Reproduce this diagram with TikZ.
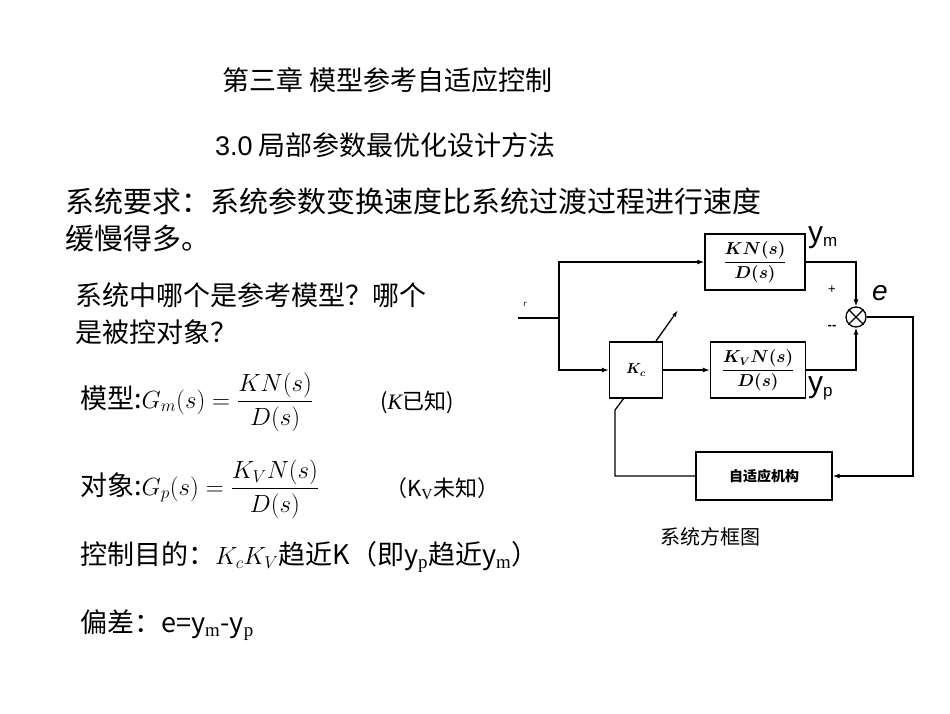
\documentclass[tikz,border=0pt]{standalone}
\usepackage{amsmath,bm}
\usepackage{fontspec}
\setmainfont{Liberation Serif}
\newfontfamily\cjk{Noto Sans CJK SC}
\newfontfamily\sans{Liberation Sans}
\usetikzlibrary{arrows.meta}
\begin{document}
\begin{tikzpicture}[x=1pt,y=-1pt,
  txt/.style={anchor=west,inner sep=0pt,font=\fontsize{27}{30}\selectfont\cjk},
  blk/.style={draw,line width=1.4pt,inner sep=0pt},
  ln/.style={line width=1.3pt},
  arr/.style={ln,-{Latex[length=7pt,width=5pt]}}]
\useasboundingbox (0,0) rectangle (950,713);
\node[txt] (t1) at (222,80) {第三章\ 模型参考自适应控制};
\node[txt] (t2) at (215,145) {{\sans 3.0} 局部参数最优化设计方法};
\node[txt,font=\fontsize{29}{30}\selectfont\cjk] (t3) at (65,201) {系统要求：系统参数变换速度比系统过渡过程进行速度};
\node[txt,font=\fontsize{29}{30}\selectfont\cjk] (t4) at (65,238) {缓慢得多。};
\node[txt] (t5) at (75,295) {系统中哪个是参考模型？哪个};
\node[txt] (t6) at (75,332) {是被控对象？};
\node[txt] (f1) at (80,402) {模型:$G_m(s)=\dfrac{KN(s)}{D(s)}$};
\node[txt,font=\fontsize{22}{24}\selectfont\cjk] (f1b) at (380,402) {({\rmfamily\itshape K}已知)};
\node[txt] (f2) at (80,489) {对象:$G_p(s)=\dfrac{K_VN(s)}{D(s)}$};
\node[txt,font=\fontsize{22}{24}\selectfont\cjk] (f2b) at (385,489) {（K$_\mathrm{V}$未知）};
\node[txt] (f3) at (80,557) {控制目的：$K_cK_V$趋近K（即y$_\mathrm{p}$趋近y$_\mathrm{m}$）};
\node[txt] (f4) at (80,625) {偏差：e=y$_\mathrm{m}$-y$_\mathrm{p}$};
\node[txt,font=\fontsize{20}{22}\selectfont\cjk] (cap) at (660,537) {系统方框图};
% block diagram
\node[blk,minimum width=100pt,minimum height=56pt] (gm) at (755,262) {\fontsize{16}{18}\selectfont$\dfrac{\bm{KN(s)}}{\bm{D(s)}}$};
\node[blk,minimum width=53pt,minimum height=56pt] (kc) at (636,370) {\fontsize{14}{16}\selectfont$\bm{K_c}$};
\node[blk,minimum width=95pt,minimum height=56pt] (gp) at (758,370) {\fontsize{16}{18}\selectfont$\dfrac{\bm{K_VN(s)}}{\bm{D(s)}}$};
\node[blk,minimum width=136pt,minimum height=48pt] (ad) at (764,476) {\fontsize{14}{16}\selectfont\cjk\bfseries 自适应机构};
\node[draw,circle,line width=1.3pt,minimum size=20pt,inner sep=0pt] (sum) at (856,317) {};
\draw[ln] (sum.north west)--(sum.south east) (sum.north east)--(sum.south west);
\coordinate (rin) at (518,318);
\coordinate (sp) at (559,318);
\draw[ln] (rin) -- (sp);
\node[font=\small\itshape] (r) at (525,304) {r};
\draw[arr] (sp) |- (gm.west);
\draw[arr] (sp) |- (kc.west);
\draw[arr] (kc) -- (gp);
\draw[arr] (gm.east) -| (sum.north);
\draw[arr] (gp.east) -| (sum.south);
\coordinate (rc) at (913,317);
\draw[arr] (sum.east) -- (rc) |- (ad.east);
\coordinate (lc) at (615,476);
\coordinate (lt) at (615,410);
\coordinate (kb) at (624,398);
\draw[ln] (ad.west) -- (lc) -- (lt) -- (kb);
\coordinate (a1) at (656,341);
\coordinate (a2) at (678,310);
\draw[ln,-{Latex[length=7pt,width=4pt]}] (a1) -- (a2);
\node[font=\fontsize{13}{14}\selectfont\sans] (pl) at (832,290) {+};
\node[font=\fontsize{13}{14}\selectfont\sans] (mi) at (832,327) {\textbf{--}};
\node[font=\fontsize{30}{30}\selectfont\sans,anchor=west,inner sep=0] (ym) at (808,238) {y\fontsize{17}{18}\selectfont\raisebox{-4pt}{m}};
\node[font=\fontsize{30}{30}\selectfont\sans,anchor=west,inner sep=0] (yp) at (808,388) {y\fontsize{17}{18}\selectfont\raisebox{-4pt}{p}};
\node[font=\fontsize{28}{30}\selectfont\sans\itshape] (e) at (880,293) {e};
\end{tikzpicture}
\end{document}
